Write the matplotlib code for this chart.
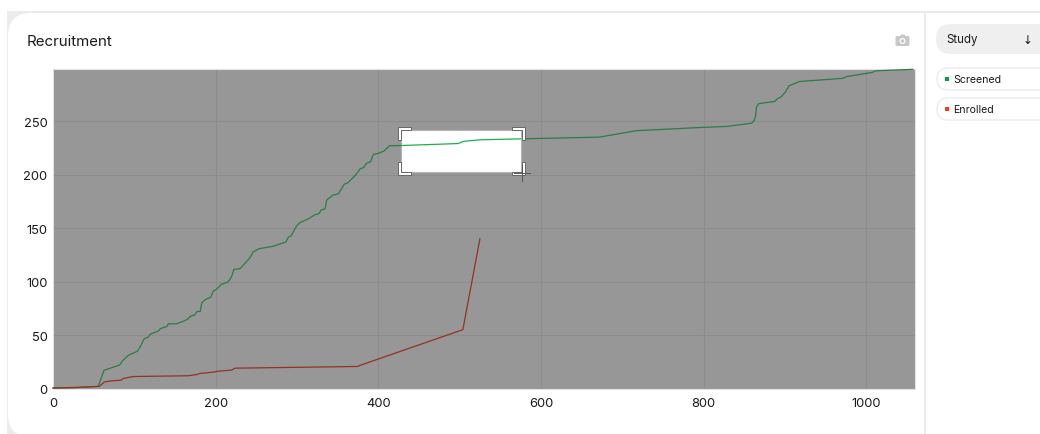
import matplotlib
matplotlib.use("Agg")
import matplotlib.pyplot as plt
from matplotlib.patches import Rectangle, FancyBboxPatch, Circle, Polygon

plt.rcParams['font.family'] = ['Inter', 'Liberation Sans', 'DejaVu Sans']

title = "Recruitment"
series_names = ["Screened", "Enrolled"]
filter_label = "Study"
x_ticks = [0, 200, 400, 600, 800, 1000]
y_ticks = [0, 50, 100, 150, 200, 250]
x_range = [0, 1060]
y_range = [0, 298.7]
selection_x = [428, 576]
selection_y = [202, 241.6]

screened_x = [0, 30, 55.7, 62.7, 82, 85.6, 92.6, 104, 108, 112, 117, 120, 129.5, 132, 140, 142, 152, 160, 166, 169,
              174.5, 177, 181, 183, 187, 194, 197, 201, 207, 215.5, 219.6, 222.5, 230, 242, 246, 253.6, 271, 286.4,
              289, 293, 299.5, 303.6, 315, 322, 327, 330, 334.7, 336.4, 344, 351, 357, 358, 363, 372.5, 378, 382,
              385.6, 390.5, 393.8, 400.7, 407, 414, 422, 498, 504.5, 525, 576, 672, 717, 795, 828, 859, 862, 864,
              865, 868, 887.5, 891, 895.5, 901, 905, 918, 971.5, 975.6, 1008, 1011, 1057.5]
screened_y = [0.5, 1, 2, 17, 22, 26, 31, 35, 40, 46.5, 48, 51, 53.7, 56, 58, 60.5, 60.5, 62.7, 65, 67.5,
              69, 72, 72, 80, 83, 85.5, 91, 92.7, 97.4, 99.8, 104.5, 111.4, 112, 122, 127.6, 130.7, 133, 137,
              141, 143, 152, 155, 159, 162.5, 163.5, 167, 168, 176, 180.7, 182, 189.5, 191, 192.5, 200, 205.6, 206.5,
              210.6, 212, 218.7, 220, 222, 227, 227, 229, 231, 232.5, 233.4, 235, 241, 244, 245, 248, 250.3, 255,
              263, 266.3, 268.4, 271, 272.8, 277.5, 283, 287, 290, 291.5, 295.6, 297, 298.4]
enrolled_x = [0, 30, 57, 63, 70, 83.6, 86.5, 98.7, 166, 176.6, 180, 197, 203, 219.6, 223.7, 375, 377, 504, 525]
enrolled_y = [0.5, 1, 2, 6, 7, 7.8, 9.4, 11.2, 11.9, 13, 14, 15.3, 16.2, 17.2, 19, 20.6, 21.5, 55, 140]

fig = plt.figure(figsize=(10.4, 4.35), dpi=100, facecolor="white")

# page furniture in pixel coordinates
page = fig.add_axes([0, 0, 1, 1], zorder=0)
page.set_xlim(0, 1040)
page.set_ylim(435, 0)
page.axis("off")
page.add_patch(Rectangle((7, 12), 1033, 424, fc="#ebebeb", ec="none"))
page.add_patch(FancyBboxPatch((8 + 23, 14 + 23), 916 - 46, 424 - 46, boxstyle="round,pad=23,rounding_size=23",
                              fc="white", ec="none"))
page.add_patch(Rectangle((600, 14), 324, 422, fc="white", ec="none"))
page.add_patch(Rectangle((926, 14), 114, 422, fc="white", ec="none"))
page.text(27, 42, title, fontsize=10.85, color="#1a1a1a", va="center", ha="left")

# camera icon
page.add_patch(FancyBboxPatch((896, 37.5), 13, 9, boxstyle="round,pad=0.5,rounding_size=1.5", fc="#c8c8c8", ec="none"))
page.add_patch(Polygon([[899.5, 37.5], [901, 35.5], [904.5, 35.5], [906, 37.5]], fc="#c8c8c8", ec="none"))
page.add_patch(Circle((902.5, 42), 3.0, fc="white", ec="none"))
page.add_patch(Circle((902.5, 42), 1.8, fc="#c8c8c8", ec="none"))

# sidebar controls
page.add_patch(FancyBboxPatch((936 + 15, 40), 120 - 30, 0.01, boxstyle="round,pad=15,rounding_size=15",
                              fc="#efefef", ec="none"))
page.text(946, 40, filter_label, fontsize=8.3, color="#1a1a1a", va="center", ha="left")
page.text(1027.5, 40, "↓", fontsize=8.5, color="#1a1a1a", va="center", ha="center", family="DejaVu Sans")
swatches = ["#00a33a", "#ff3a12"]
for i, (name, col) in enumerate(zip(series_names, swatches)):
    yc = 80 + i * 30
    page.add_patch(FancyBboxPatch((937 + 11, yc), 120 - 22, 0.01, boxstyle="round,pad=11,rounding_size=11",
                                  fc="white", ec="#ececec", lw=1))
    page.add_patch(Rectangle((945, yc - 2), 4, 4, fc=col, ec="none"))
    page.text(953, yc, name, fontsize=7.6, color="#1a1a1a", va="center", ha="left")

# plot
ax = fig.add_axes([53 / 1040, 1 - 389.5 / 435, 862 / 1040, 319.5 / 435], zorder=1)
ax.set_xlim(*x_range)
ax.set_ylim(*y_range)
ax.set_facecolor("#979797")
ax.set_xticks(x_ticks)
ax.set_yticks(y_ticks)
ax.grid(True, color="#8c8c8c", lw=0.8)
ax.set_axisbelow(True)
ax.tick_params(length=0, labelsize=9.3, labelcolor="#1a1a1a", pad=6)
ax.tick_params(axis="y", pad=4)
for s in ax.spines.values():
    s.set_color("#e2e2e2")
    s.set_linewidth(0.8)
ax.plot(screened_x, screened_y, color="#2a7d45", lw=0.9, zorder=3, clip_on=False)
ax.plot(enrolled_x, enrolled_y, color="#933320", lw=0.9, zorder=3, clip_on=False)

sel = Rectangle((selection_x[0], selection_y[0]), selection_x[1] - selection_x[0], selection_y[1] - selection_y[0],
                fc="white", ec="#b5b5b5", lw=0.8, zorder=4)
ax.add_patch(sel)
bright, = ax.plot(screened_x, screened_y, color="#1fae4e", lw=0.9, zorder=5)
bright.set_clip_path(sel)

# selection handles in pixel coordinates
over = fig.add_axes([0, 0, 1, 1], zorder=2)
over.set_xlim(0, 1040)
over.set_ylim(435, 0)
over.axis("off")
over.patch.set_alpha(0)
L, R, T, B = 401, 522, 131, 173
arm = 10
for cx, cy, sx, sy in [(L, T, 1, 1), (R, T, -1, 1), (L, B, 1, -1), (R, B, -1, -1)]:
    x0, y0 = cx - sx * 3, cy - sy * 3
    poly = [[x0, y0], [x0 + sx * (arm + 3), y0], [x0 + sx * (arm + 3), y0 + sy * 3], [x0 + sx * 3, y0 + sy * 3],
            [x0 + sx * 3, y0 + sy * (arm + 3)], [x0, y0 + sy * (arm + 3)]]
    over.add_patch(Polygon(poly, closed=True, fc="white", ec="#666666", lw=0.7))
over.plot([522, 522], [166, 182], color="#555555", lw=0.7)
over.plot([514, 530], [173.5, 173.5], color="#555555", lw=0.7)

fig.savefig("out.png", dpi=100)
